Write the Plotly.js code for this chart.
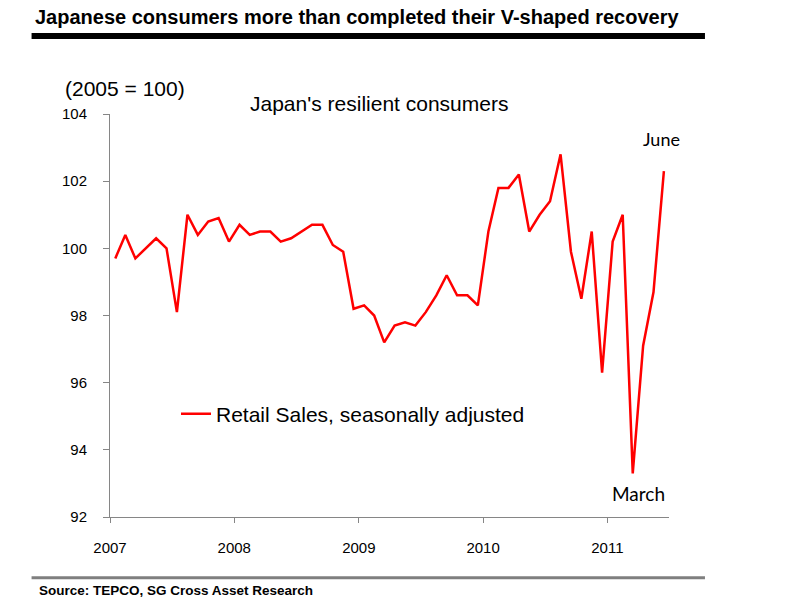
<!DOCTYPE html>
<html>
<head>
<meta charset="utf-8">
<script src="https://cdn.plot.ly/plotly-3.0.1.min.js"></script>
<style>
  html, body { margin: 0; padding: 0; background: #fff; }
  #chart { width: 792px; height: 602px; }
</style>
</head>
<body>
<div id="chart"></div>
<script>
// Monthly retail sales index, Jan 2007 - Jun 2011 (2005 = 100)
const months = [
  '2007-01', '2007-02', '2007-03', '2007-04', '2007-05', '2007-06',
  '2007-07', '2007-08', '2007-09', '2007-10', '2007-11', '2007-12',
  '2008-01', '2008-02', '2008-03', '2008-04', '2008-05', '2008-06',
  '2008-07', '2008-08', '2008-09', '2008-10', '2008-11', '2008-12',
  '2009-01', '2009-02', '2009-03', '2009-04', '2009-05', '2009-06',
  '2009-07', '2009-08', '2009-09', '2009-10', '2009-11', '2009-12',
  '2010-01', '2010-02', '2010-03', '2010-04', '2010-05', '2010-06',
  '2010-07', '2010-08', '2010-09', '2010-10', '2010-11', '2010-12',
  '2011-01', '2011-02', '2011-03', '2011-04', '2011-05', '2011-06'
];
const retailSales = [
  99.7, 100.4, 99.7, 100.0, 100.3, 100.0, 98.1, 101.0, 100.4, 100.8, 100.9, 100.2,
  100.7, 100.4, 100.5, 100.5, 100.2, 100.3, 100.5, 100.7, 100.7, 100.1, 99.9, 98.2,
  98.3, 98.0, 97.2, 97.7, 97.8, 97.7, 98.1, 98.6, 99.2, 98.6, 98.6, 98.3,
  100.5, 101.8, 101.8, 102.2, 100.5, 101.0, 101.4, 102.8, 99.9, 98.5, 100.5, 96.3,
  100.2, 101.0, 93.3, 97.1, 98.7, 102.3
];
const yearTicks = ['2007-01-01', '2008-01-01', '2009-01-01', '2010-01-01', '2011-01-01'];
const yearLabels = ['2007', '2008', '2009', '2010', '2011'];
const yTicks = [92, 94, 96, 98, 100, 102, 104];

const W = 792, H = 602;
const plotL = 109.5, plotR = 669, plotT = 114, plotB = 516.7;
const axisGrey = '#868686';
const arial = 'Liberation Sans, Arial, sans-serif';
const calibri = 'Lato, Open Sans, sans-serif';

const traces = [{
  x: months,
  y: retailSales,
  xperiod: 'M1',
  xperiodalignment: 'middle',
  type: 'scatter',
  mode: 'lines',
  name: 'Retail Sales, seasonally adjusted',
  line: {color: '#ff0000', width: 2.5},
  hoverinfo: 'x+y'
}];

const layout = {
  width: W,
  height: H,
  margin: {l: plotL, r: W - plotR, t: plotT, b: H - plotB, pad: 0, autoexpand: false},
  paper_bgcolor: '#ffffff',
  plot_bgcolor: '#ffffff',
  font: {family: arial, color: '#000000'},
  title: {
    text: '<b>Japanese consumers more than completed their V-shaped recovery</b>',
    font: {family: arial, size: 20, color: '#000000'},
    xref: 'container', yref: 'container',
    x: 35 / W, xanchor: 'left',
    y: 1 - 17 / H, yanchor: 'middle'
  },
  xaxis: {
    type: 'date',
    range: ['2007-01-01', '2011-07-01'],
    tickvals: yearTicks,
    ticktext: yearLabels,
    ticks: 'outside',
    ticklen: 5,
    tickcolor: axisGrey,
    showline: true,
    linecolor: axisGrey,
    linewidth: 1,
    showgrid: false,
    zeroline: false,
    automargin: false,
    tickfont: {family: arial, size: 15, color: '#000000'},
    ticklabelstandoff: 12,
    fixedrange: true
  },
  yaxis: {
    range: [92, 104],
    tickvals: yTicks,
    ticks: 'outside',
    ticklen: 6,
    tickcolor: axisGrey,
    showline: true,
    linecolor: axisGrey,
    linewidth: 1,
    showgrid: false,
    zeroline: false,
    automargin: false,
    tickfont: {family: arial, size: 15, color: '#000000'},
    ticklabelstandoff: 13,
    fixedrange: true
  },
  showlegend: true,
  legend: {
    xref: 'container', yref: 'container',
    x: 176 / W, xanchor: 'left',
    y: 1 - 414 / H, yanchor: 'middle',
    bgcolor: 'rgba(0,0,0,0)',
    font: {family: arial, size: 21, color: '#000000'}
  },
  shapes: [
    {type: 'line', xref: 'paper', yref: 'paper',
     x0: (31 - plotL) / (plotR - plotL), x1: (705 - plotL) / (plotR - plotL),
     y0: 1 + (plotT - 36) / (plotB - plotT), y1: 1 + (plotT - 36) / (plotB - plotT),
     line: {color: '#000000', width: 6}},
    {type: 'line', xref: 'paper', yref: 'paper',
     x0: (31 - plotL) / (plotR - plotL), x1: (705 - plotL) / (plotR - plotL),
     y0: -(577.5 - plotB) / (plotB - plotT), y1: -(577.5 - plotB) / (plotB - plotT),
     line: {color: '#7f7f7f', width: 3}}
  ],
  annotations: [
    {text: '(2005 = 100)', xref: 'paper', yref: 'paper',
     x: (62 - plotL) / (plotR - plotL), xanchor: 'left',
     y: 1 + (plotT - 89) / (plotB - plotT), yanchor: 'middle',
     showarrow: false, font: {family: arial, size: 21, color: '#000000'}},
    {text: "Japan's resilient consumers", xref: 'paper', yref: 'paper',
     x: (248 - plotL) / (plotR - plotL), xanchor: 'left',
     y: 1 + (plotT - 104) / (plotB - plotT), yanchor: 'middle',
     showarrow: false, font: {family: arial, size: 21, color: '#000000'}},
    {text: 'June', x: '2011-06-15', y: 102.3, xref: 'x', yref: 'y',
     xshift: -2, yshift: 32, showarrow: false,
     font: {family: calibri, size: 18, color: '#000000'}},
    {text: 'March', x: '2011-03-15', y: 93.3, xref: 'x', yref: 'y',
     xshift: 6, yshift: -20, showarrow: false,
     font: {family: calibri, size: 19, color: '#000000'}},
    {text: '<b>Source: TEPCO, SG Cross Asset Research</b>', xref: 'paper', yref: 'paper',
     x: (36 - plotL) / (plotR - plotL), xanchor: 'left',
     y: -(590 - plotB) / (plotB - plotT), yanchor: 'middle',
     showarrow: false, font: {family: arial, size: 13.5, color: '#000000'}}
  ]
};

Plotly.newPlot('chart', traces, layout, {displayModeBar: false, responsive: false, staticPlot: true});
</script>
</body>
</html>
